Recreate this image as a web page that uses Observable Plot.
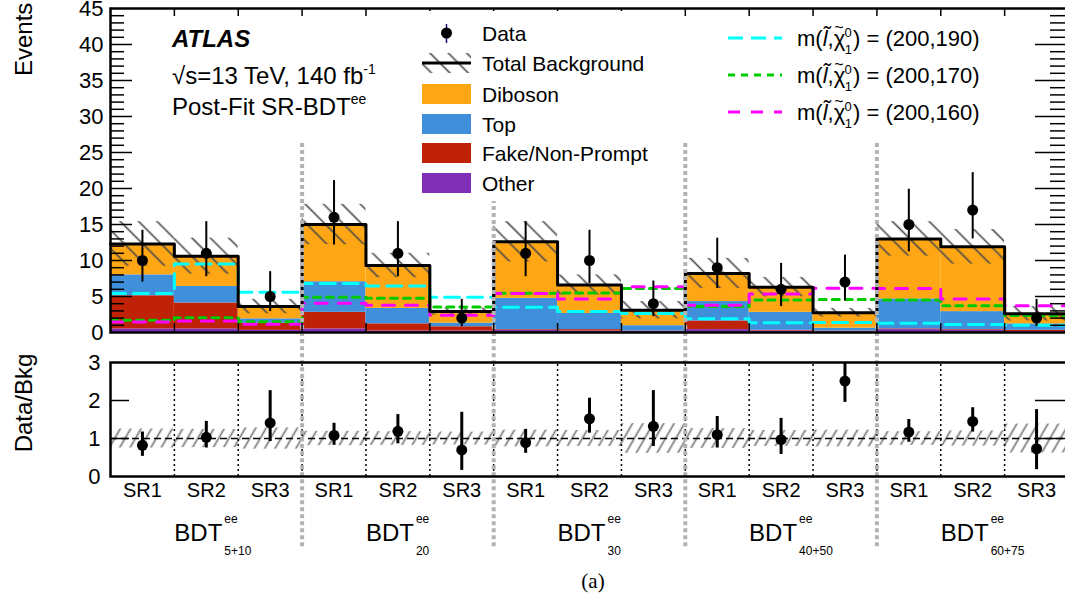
<!DOCTYPE html>
<html><head><meta charset="utf-8">
<script src="https://cdn.jsdelivr.net/npm/d3@7"></script>
<script src="https://cdn.jsdelivr.net/npm/@observablehq/plot@0.6"></script>
<style>
body{margin:0;background:#fff;}
#wrap{position:relative;width:1065px;height:605px;overflow:hidden;background:#fff;}
#topc{position:absolute;left:0;top:0;}
#botc{position:absolute;left:0;top:340px;}
</style></head><body>
<svg width="0" height="0" style="position:absolute">
 <defs>
  <pattern id="hatchTop" patternUnits="userSpaceOnUse" width="13" height="13" patternTransform="rotate(-45)">
    <line x1="6.5" y1="-1" x2="6.5" y2="14" stroke="#4a4a4a" stroke-width="1.6"/>
  </pattern>
  <pattern id="hatchBot" patternUnits="userSpaceOnUse" width="9" height="9" patternTransform="rotate(30)">
    <line x1="4.5" y1="-1" x2="4.5" y2="10" stroke="#7a7a7a" stroke-width="1.7"/>
  </pattern>
 </defs>
</svg>
<div id="wrap"><div id="topc"></div><div id="botc"></div></div>
<script>
const FONT = "'Liberation Sans', Arial, Helvetica, sans-serif";
// ---------- data ----------
const srLabels = ["SR1", "SR2", "SR3"];
const groupSub = ["5+10", "20", "30", "40+50", "60+75"];
const groupMain = "BDT";
const groupSup = "ee";
const procs = ["Other", "Fake/Non-Prompt", "Top", "Diboson"];
const procColors = ["#7f2fb5", "#c02208", "#3f8fdb", "#fea613"];
const other   = [0.5, 0.5, 0.3, 0.5, 0.2, 0.2, 0.3, 0.2, 0.15, 0.4, 0.2, 0.1, 0.4, 0.3, 0.1];
const fake    = [4.6, 3.6, 1.0, 2.3, 1.0, 0.6, 0.1, 0.2, 0.05, 1.2, 0.1, 0.1, 0.1, 0.1, 0.2];
const topq    = [2.9, 2.3, 0.6, 4.25, 2.15, 0.5, 4.35, 2.25, 0.75, 2.7, 2.5, 0.4, 4.15, 2.5, 0.9];
const diboson = [4.3, 4.2, 1.7, 7.95, 5.95, 1.6, 7.85, 3.95, 2.15, 3.9, 3.5, 2.15, 8.35, 9.0, 1.4];
const bkgErr  = [3.1, 2.5, 1.0, 2.8, 1.7, 0.5, 2.8, 1.4, 1.2, 2.1, 1.35, 0.6, 2.4, 2.4, 1.0];
const dataVals = [10, 11, 5, 16, 11, 2, 11, 10, 4, 9, 6, 7, 15, 17, 2];
const dataHi   = [14.2, 15.4, 8.45, 21.1, 15.4, 4.6, 15.4, 14.2, 7.15, 13.1, 9.6, 10.75, 19.9, 22.2, 4.6];
const dataLo   = [7.0, 7.75, 2.9, 12.15, 7.75, 0.8, 7.75, 6.8, 2.2, 6.1, 3.6, 4.4, 11.2, 13.0, 0.8];
const sig190 = [5.4, 9.5, 5.6, 6.8, 6.45, 4.9, 3.5, 2.9, 2.65, 1.9, 1.35, 1.4, 1.3, 1.1, 1.0];
const sig170 = [1.7, 2.05, 1.5, 4.9, 4.75, 3.55, 5.45, 5.5, 6.1, 3.6, 4.5, 4.6, 4.5, 3.7, 2.35];
const sig160 = [1.45, 1.6, 1.15, 4.05, 3.8, 2.4, 5.4, 4.65, 6.35, 3.8, 5.35, 6.15, 6.1, 4.65, 3.7];
const ratio   = [0.82, 1.03, 1.41, 1.08, 1.19, 0.70, 0.89, 1.52, 1.32, 1.10, 0.97, 2.51, 1.17, 1.45, 0.73];
const ratioHi = [1.17, 1.45, 2.26, 1.40, 1.63, 1.69, 1.24, 2.06, 2.26, 1.58, 1.53, 3.0, 1.50, 1.81, 1.76];
const ratioLo = [0.53, 0.75, 0.92, 0.82, 0.86, 0.16, 0.61, 1.14, 0.79, 0.75, 0.58, 1.95, 0.90, 1.17, 0.18];
const bandRel = [0.25, 0.24, 0.28, 0.19, 0.18, 0.17, 0.22, 0.21, 0.39, 0.26, 0.21, 0.22, 0.18, 0.20, 0.38];
const sigNames = ["(200,190)", "(200,170)", "(200,160)"];
const sigColors = ["#00ffff", "#00cc00", "#ff00ff"];
const sigDash = ["15,8", "7,6", "12,11"];
const yTicksTop = [0, 5, 10, 15, 20, 25, 30, 35, 40, 45];
const yTicksBot = [0, 1, 2, 3];

// ---------- derived tables ----------
const nb = dataVals.length;
const bins = d3.range(nb);
const comps = [other, fake, topq, diboson];
const total = bins.map(i => d3.sum(comps, a => a[i]));
const stackRows = [];
bins.forEach(i => { let acc = 0; comps.forEach((a, k) => { stackRows.push({i, proc: procs[k], y1: acc, y2: acc + a[i]}); acc += a[i]; }); });
const steps = arr => bins.flatMap(i => [{x: i, y: arr[i]}, {x: i + 1, y: arr[i]}]);
const edges = d3.range(1, nb);
const groupEdges = [3, 6, 9, 12];
const groups = groupSub.map((s, g) => ({c: g * 3 + 1.5, sub: s, main: groupMain, sup: groupSup}));
const majorTop = yTicksTop.slice(1, -1);
const minorTop = d3.range(1, 45).filter(v => v % 5 !== 0);

const W = 1065, ML = 110, MR = -3, FW = W - ML - MR;
const FH = 340 - 8 - 8;

const topPlot = Plot.plot({
  width: W, height: 340, marginLeft: ML, marginRight: MR, marginTop: 8, marginBottom: 8,
  style: {fontFamily: FONT, fontSize: "22px", color: "black", background: "none", overflow: "visible"},
  x: {domain: [0, nb], axis: null},
  y: {domain: [0, 45], ticks: yTicksTop, tickFormat: d => String(d), tickSize: 0, tickPadding: 7, label: null},
  color: {domain: procs, range: procColors},
  marks: [
    Plot.rectY(stackRows, {x1: d => d.i, x2: d => d.i + 1, y1: "y1", y2: "y2", fill: "proc"}),
    Plot.rectY(bins, {x1: i => i, x2: i => i + 1, y1: i => total[i] - bkgErr[i], y2: i => total[i] + bkgErr[i], fill: "url(#hatchTop)"}),
    Plot.line(steps(sig190), {x: "x", y: "y", stroke: sigColors[0], strokeWidth: 3, strokeDasharray: sigDash[0]}),
    Plot.line(steps(sig170), {x: "x", y: "y", stroke: sigColors[1], strokeWidth: 3, strokeDasharray: sigDash[1]}),
    Plot.line(steps(sig160), {x: "x", y: "y", stroke: sigColors[2], strokeWidth: 3, strokeDasharray: sigDash[2]}),
    Plot.line(steps(total), {x: "x", y: "y", stroke: "black", strokeWidth: 3}),
    Plot.ruleX(groupEdges, {y1: 26.25, y2: -1.2, stroke: "#b3b3b3", strokeWidth: 4, strokeDasharray: "4,3"}),
    Plot.ruleX(bins, {x: i => i + 0.5, y1: i => dataLo[i], y2: i => dataHi[i], stroke: "black", strokeWidth: 2}),
    Plot.dot(bins, {x: i => i + 0.5, y: i => dataVals[i], r: 5.5, fill: "black"}),
    Plot.tickY(majorTop, {insetRight: FW - 22, stroke: "black", strokeWidth: 1.5}),
    Plot.tickY(minorTop, {insetRight: FW - 14, stroke: "black", strokeWidth: 1.5}),
    Plot.tickY(majorTop, {insetLeft: FW - 33, stroke: "black", strokeWidth: 1.5}),
    Plot.tickY(minorTop, {insetLeft: FW - 18, stroke: "black", strokeWidth: 1.5}),
    Plot.tickX(edges, {insetBottom: FH - 8, stroke: "black", strokeWidth: 1.5}),
    Plot.tickX(edges, {insetTop: FH - 9, stroke: "black", strokeWidth: 1.5}),
    Plot.frame({stroke: "black", strokeWidth: 2.5})
  ]
});
document.getElementById("topc").appendChild(topPlot);

const botPlot = Plot.plot({
  width: W, height: 265, marginLeft: ML, marginRight: MR, marginTop: 22, marginBottom: 129,
  style: {fontFamily: FONT, fontSize: "22px", color: "black", background: "none", overflow: "visible"},
  x: {domain: [0, nb], axis: null},
  y: {domain: [0, 3], ticks: yTicksBot, tickFormat: d => String(d), tickSize: 0, tickPadding: 10, label: null},
  marks: [
    Plot.rectY(bins, {x1: i => i, x2: i => i + 1, y1: i => 1 - bandRel[i], y2: i => 1 + bandRel[i], fill: "url(#hatchBot)"}),
    Plot.ruleY([1], {stroke: "black", strokeWidth: 1.3, strokeDasharray: "7,4"}),
    Plot.ruleX(edges, {y1: 0, y2: 3, stroke: "black", strokeWidth: 1.5, strokeDasharray: "2,3"}),
    Plot.ruleX(groupEdges, {y1: 3.6, y2: -1.9, stroke: "#b3b3b3", strokeWidth: 4, strokeDasharray: "4,3"}),
    Plot.ruleX(bins, {x: i => i + 0.5, y1: i => ratioLo[i], y2: i => ratioHi[i], stroke: "black", strokeWidth: 3}),
    Plot.dot(bins, {x: i => i + 0.5, y: i => ratio[i], r: 5.5, fill: "black"}),
    Plot.tickY([1, 2], {insetRight: FW - 19, stroke: "black", strokeWidth: 1.5}),
    Plot.tickY([1, 2], {insetLeft: FW - 33, stroke: "black", strokeWidth: 1.5}),
    Plot.frame({stroke: "black", strokeWidth: 2.5}),
    Plot.text(bins, {x: i => i + 0.5, frameAnchor: "bottom", dy: 20, text: i => srLabels[i % 3], fontSize: 20}),
    Plot.text(groups, {x: "c", frameAnchor: "bottom", dy: 64, dx: 16, textAnchor: "end", text: "main", fontSize: 24}),
    Plot.text(groups, {x: "c", frameAnchor: "bottom", dy: 46, dx: 18, textAnchor: "start", text: "sup", fontSize: 12}),
    Plot.text(groups, {x: "c", frameAnchor: "bottom", dy: 78, dx: 18, textAnchor: "start", text: "sub", fontSize: 12})
  ]
});
document.getElementById("botc").appendChild(botPlot);

// ---------- annotations & legend ----------
const ts = d3.select(topPlot);
const ann = ts.append("g").attr("font-family", FONT).attr("fill", "black").attr("text-anchor", "start");
ann.append("text").attr("transform", "translate(32,76) rotate(-90)").attr("font-size", 24).text("Events");
ann.append("text").attr("x", 172).attr("y", 47).attr("font-size", 24).attr("font-weight", "bold").attr("font-style", "italic").text("ATLAS");
const t2 = ann.append("text").attr("x", 172).attr("y", 84).attr("font-size", 24);
t2.append("tspan").text("\u221As=13 TeV, 140 fb");
t2.append("tspan").attr("font-size", 14).attr("dy", -10).text("-1");
const t3 = ann.append("text").attr("x", 172).attr("y", 115).attr("font-size", 24);
t3.append("tspan").text("Post-Fit SR-BDT");
t3.append("tspan").attr("font-size", 14).attr("dy", -11).text("ee");

const lg = ts.append("g").attr("font-family", FONT).attr("font-size", 21).attr("text-anchor", "start");
lg.append("rect").attr("x", 414).attr("y", 11).attr("width", 252).attr("height", 190).attr("fill", "white");
const rows = [33, 63, 94, 124, 153, 183];
lg.append("line").attr("x1", 446.5).attr("x2", 446.5).attr("y1", 24).attr("y2", 43).attr("stroke", "#101080").attr("stroke-width", 1.5);
lg.append("circle").attr("cx", 446.5).attr("cy", 33).attr("r", 5.5).attr("fill", "black");
lg.append("rect").attr("x", 422).attr("y", 53).attr("width", 49).attr("height", 20).attr("fill", "url(#hatchTop)");
lg.append("line").attr("x1", 422).attr("x2", 471).attr("y1", 63).attr("y2", 63).attr("stroke", "black").attr("stroke-width", 3);
[3, 2, 1, 0].forEach((k, j) => {
  lg.append("rect").attr("x", 422).attr("y", rows[2 + j] - 10).attr("width", 49).attr("height", 20).attr("fill", procColors[k]);
});
const legTexts = ["Data", "Total Background", procs[3], procs[2], procs[1], procs[0]];
legTexts.forEach((s, j) => lg.append("text").attr("x", 482).attr("y", rows[j] + 7.5).text(s));

const sg = ts.append("g").attr("font-family", FONT).attr("font-size", 22).attr("text-anchor", "start");
[38, 75, 112].forEach((y, k) => {
  sg.append("line").attr("x1", 728).attr("x2", 782).attr("y1", y).attr("y2", y)
    .attr("stroke", sigColors[k]).attr("stroke-width", 3).attr("stroke-dasharray", sigDash[k]);
  const t = sg.append("text").attr("x", 797).attr("y", y + 8);
  t.append("tspan").text("m(");
  t.append("tspan").attr("font-style", "italic").text("l\u0303");
  t.append("tspan").text(",\u03C7");
  t.append("tspan").attr("font-size", 16).attr("dx", -11).attr("dy", -13).text("~");
  t.append("tspan").attr("font-size", 13).attr("dx", 1).attr("dy", 4).text("0");
  t.append("tspan").attr("font-size", 13).attr("dx", -7).attr("dy", 17).text("1");
  t.append("tspan").attr("dy", -8).attr("dx", 1).text(") = " + sigNames[k]);
});

const bs = d3.select(botPlot);
const ann2 = bs.append("g").attr("font-family", FONT).attr("fill", "black");
ann2.append("text").attr("transform", "translate(32,63) rotate(-90)").attr("text-anchor", "middle").attr("font-size", 24).text("Data/Bkg");
ann2.append("text").attr("x", 593).attr("y", 248).attr("text-anchor", "middle")
  .attr("font-family", "'Liberation Serif', 'Times New Roman', serif").attr("font-size", 21).text("(a)");
</script>
</body></html>
